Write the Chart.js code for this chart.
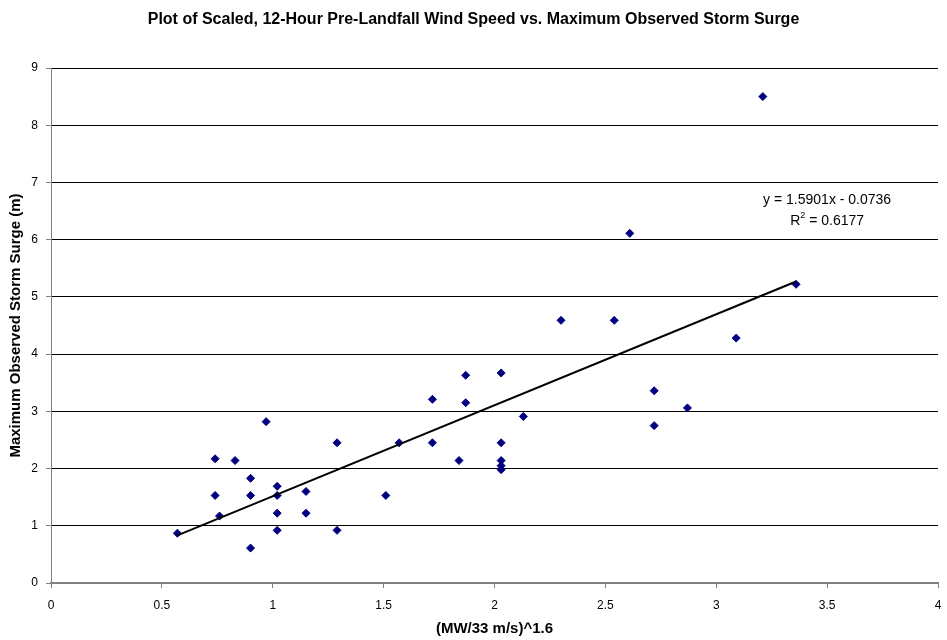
<!DOCTYPE html>
<html>
<head>
<meta charset="utf-8">
<title>Storm Surge vs Scaled Wind Speed</title>
<script src="https://cdn.jsdelivr.net/npm/chart.js@4.4.1/dist/chart.umd.min.js"></script>
<style>
  html, body { margin: 0; padding: 0; background: #fff; }
  #wrap { width: 947px; height: 640px; }
</style>
</head>
<body>
<div id="wrap"><canvas id="myChart" width="947" height="640"></canvas></div>
<script>

// scaled 12-hour pre-landfall wind speed, (MW/33 m/s)^1.6
const scaledWind = [
  0.57, 0.74, 0.74, 0.76, 0.83, 0.90, 0.90, 0.90, 0.97, 1.02,
  1.02, 1.02, 1.02, 1.15, 1.15, 1.29, 1.29, 1.51, 1.57, 1.72,
  1.72, 1.84, 1.87, 1.87, 2.03, 2.03, 2.03, 2.03, 2.03, 2.13,
  2.30, 2.54, 2.61, 2.72, 2.72, 2.87, 3.09, 3.21, 3.36
];

// maximum observed storm surge (m)
const stormSurge = [
  0.87, 2.17, 1.53, 1.17, 2.14, 1.83, 1.53, 0.61, 2.82, 1.69,
  1.53, 1.22, 0.92, 1.60, 1.22, 2.45, 0.92, 1.53, 2.45, 3.21,
  2.45, 2.14, 3.63, 3.15, 3.67, 2.45, 2.14, 2.05, 1.98, 2.91,
  4.59, 4.59, 6.11, 3.36, 2.75, 3.06, 4.28, 8.50, 5.22
];

// linear trend line from the original
const slope = 1.5901;
const intercept = -0.0736;
const rSquared = 0.6177;

const xTicks = [0, 0.5, 1, 1.5, 2, 2.5, 3, 3.5, 4];
const yTicks = [0, 1, 2, 3, 4, 5, 6, 7, 8, 9];

const points = scaledWind.map(function(x, i) {
  return { x: x, y: stormSurge[i] };
});

const xMin = Math.min.apply(null, scaledWind);
const xMax = Math.max.apply(null, scaledWind);
const trend = [
  { x: xMin, y: slope * xMin + intercept },
  { x: xMax, y: slope * xMax + intercept }
];

const fontFamily = '"Liberation Sans", Arial, sans-serif';

// draws the trend line equation and R squared
const trendLabel = {
  id: 'trendLabel',
  afterDatasetsDraw(chart) {
    const ctx = chart.ctx;
    const xs = chart.scales.x;
    const ys = chart.scales.y;
    const cx = xs.getPixelForValue(3.5);
    const y1 = ys.getPixelForValue(6.69);
    const y2 = ys.getPixelForValue(6.33);

    ctx.save();
    ctx.fillStyle = '#000';
    ctx.textBaseline = 'middle';
    ctx.font = '14px ' + fontFamily;
    ctx.textAlign = 'center';
    ctx.fillText('y = ' + slope.toFixed(4) + 'x - ' + Math.abs(intercept).toFixed(4), cx, y1);

    // R^2 line, with a small superscript
    const rest = ' = ' + rSquared.toFixed(4);
    const wR = ctx.measureText('R').width;
    const wRest = ctx.measureText(rest).width;
    ctx.font = '9px ' + fontFamily;
    const wSup = ctx.measureText('2').width;
    const left = cx - (wR + wSup + wRest) / 2;
    ctx.textAlign = 'left';
    ctx.font = '14px ' + fontFamily;
    ctx.fillText('R', left, y2);
    ctx.font = '9px ' + fontFamily;
    ctx.fillText('2', left + wR, y2 - 5);
    ctx.font = '14px ' + fontFamily;
    ctx.fillText(rest, left + wR + wSup, y2);
    ctx.restore();
  }
};

const ctx = document.getElementById('myChart');

new Chart(ctx, {
  type: 'scatter',
  data: {
    datasets: [
      {
        label: 'Storm surge',
        data: points,
        pointStyle: 'rectRot',
        pointRadius: 4,
        pointHoverRadius: 4,
        backgroundColor: '#000080',
        borderColor: '#000080',
        borderWidth: 1,
        order: 1
      },
      {
        type: 'line',
        label: 'Linear trend',
        data: trend,
        borderColor: '#000',
        borderWidth: 2,
        pointRadius: 0,
        fill: false,
        order: 0
      }
    ]
  },
  options: {
    responsive: false,
    animation: false,
    layout: {
      padding: { left: 0, right: 0, top: 0, bottom: 0 }
    },
    plugins: {
      legend: { display: false },
      tooltip: { enabled: false },
      title: {
        display: true,
        text: 'Plot of Scaled, 12-Hour Pre-Landfall Wind Speed vs. Maximum Observed Storm Surge',
        color: '#000',
        font: { family: fontFamily, size: 16, weight: 'bold' },
        padding: { top: 10, bottom: 38.8 }
      }
    },
    scales: {
      x: {
        type: 'linear',
        min: 0,
        max: 4,
        afterBuildTicks: function(scale) {
          scale.ticks = xTicks.map(function(v) { return { value: v }; });
        },
        afterFit: function(scale) {
          scale.height = 57;
          scale.paddingLeft = 0;
          scale.paddingRight = 9;
        },
        grid: {
          drawOnChartArea: false,
          drawTicks: true,
          tickLength: 5,
          tickColor: '#808080'
        },
        border: { color: '#808080', width: 2 },
        ticks: {
          color: '#000',
          padding: 10,
          maxRotation: 0,
          font: { family: fontFamily, size: 12 },
          callback: function(v) { return String(v); }
        },
        title: {
          display: true,
          text: '(MW/33 m/s)^1.6',
          color: '#000',
          font: { family: fontFamily, size: 15, weight: 'bold' },
          padding: { top: 0, bottom: 2 }
        }
      },
      y: {
        type: 'linear',
        min: 0,
        max: 9,
        afterBuildTicks: function(scale) {
          scale.ticks = yTicks.map(function(v) { return { value: v }; });
        },
        afterFit: function(scale) { scale.width = 51; },
        grid: {
          color: '#000',
          lineWidth: 1,
          drawTicks: true,
          tickLength: 5,
          tickColor: '#808080'
        },
        border: { color: '#808080', width: 1 },
        ticks: {
          color: '#000',
          padding: 8,
          font: { family: fontFamily, size: 12 }
        },
        title: {
          display: true,
          text: 'Maximum Observed Storm Surge (m)',
          color: '#000',
          font: { family: fontFamily, size: 15, weight: 'bold' },
          padding: { top: 7, bottom: 0 }
        }
      }
    }
  },
  plugins: [trendLabel]
});

</script>
</body>
</html>
